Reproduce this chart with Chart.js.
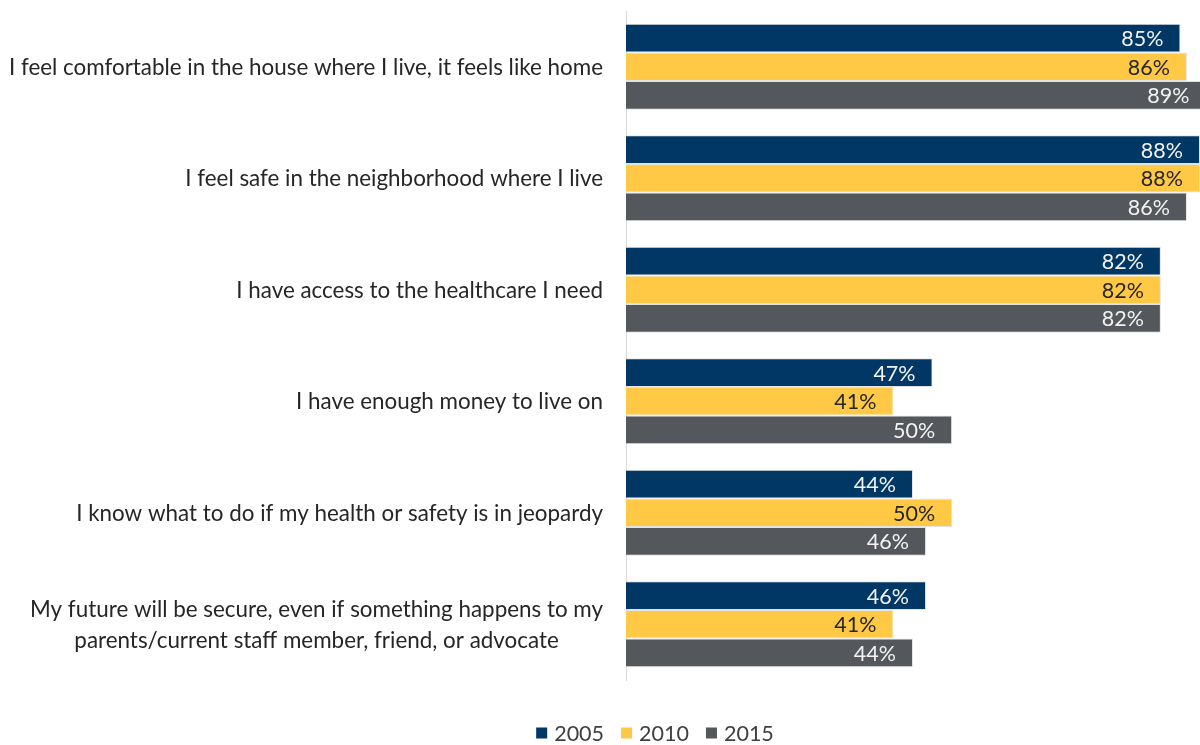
<!DOCTYPE html>
<html>
<head>
<meta charset="utf-8">
<script src="https://cdn.jsdelivr.net/npm/chart.js@4.4.1/dist/chart.umd.min.js"></script>
<style>
  html, body { margin: 0; padding: 0; background: #fff; }
  #wrap { width: 1200px; height: 745px; position: relative; }
</style>
</head>
<body>
<div id="wrap"><canvas id="chart"></canvas></div>
<script>
// survey statements, one per group (multi-line where the label wraps)
const statements = [
  ["I feel comfortable in the house where I live, it feels like home"],
  ["I feel safe in the neighborhood where I live"],
  ["I have access to the healthcare I need"],
  ["I have enough money to live on"],
  ["I know what to do if my health or safety is in jeopardy"],
  ["My future will be secure, even if something happens to my", "parents/current staff member, friend, or advocate"],
];
const years = ["2005", "2010", "2015"];
const values2005 = [85, 88, 82, 47, 44, 46];
const values2010 = [86, 88, 82, 41, 50, 41];
const values2015 = [89, 86, 82, 50, 46, 44];

const barColors = ["#003764", "#FFC845", "#54575B"];
const labelColors = ["#F2F2F2", "#262626", "#F2F2F2"];
const FONT = "Lato, 'Open Sans', sans-serif";

// category text, value labels and legend are drawn by hand
const textPlugin = {
  id: "surveyText",
  afterDatasetsDraw(chart) {
    const ctx = chart.ctx;
    const yScale = chart.scales.y;
    const xScale = chart.scales.x;
    ctx.save();

    // statements on the left, right edge at 603, wrapped lines centred
    ctx.font = "22.4px " + FONT;
    ctx.fillStyle = "#262626";
    ctx.textAlign = "center";
    ctx.textBaseline = "middle";
    statements.forEach((lines, i) => {
      const yc = yScale.getPixelForValue(i);
      const w = Math.max(...lines.map(l => ctx.measureText(l).width));
      const cx = 603 - w / 2;
      const lh = 31;
      lines.forEach((l, k) => {
        ctx.fillText(l, cx, yc + 1 + (k - (lines.length - 1) / 2) * lh);
      });
    });

    // percentage labels, inside the bar end
    ctx.font = "21.5px " + FONT;
    ctx.textAlign = "right";
    chart.data.datasets.forEach((ds, di) => {
      const meta = chart.getDatasetMeta(di);
      ctx.fillStyle = labelColors[di];
      meta.data.forEach((bar, i) => {
        const x = xScale.getPixelForValue(ds.data[i]) - 17;
        ctx.fillText(ds.data[i] + "%", x, bar.y + 1);
      });
    });

    // legend along the bottom
    ctx.font = "21.5px " + FONT;
    ctx.textAlign = "left";
    const box = 11, gap = 7, spacing = 17;
    const widths = years.map(t => box + gap + ctx.measureText(t).width);
    const total = widths.reduce((a, b) => a + b, 0) + spacing * (years.length - 1);
    let x = 655 - total / 2;
    const ly = 733;
    years.forEach((t, i) => {
      ctx.fillStyle = barColors[i];
      ctx.fillRect(x, ly - box / 2, box, box);
      ctx.fillStyle = "#404040";
      ctx.fillText(t, x + box + gap, ly + 1);
      x += widths[i] + spacing;
    });
    ctx.restore();
  }
};

new Chart(document.getElementById("chart"), {
  type: "bar",
  data: {
    labels: statements.map(s => s.join(" ")),
    datasets: [
      { label: years[0], data: values2005, backgroundColor: barColors[0] },
      { label: years[1], data: values2010, backgroundColor: barColors[1] },
      { label: years[2], data: values2015, backgroundColor: barColors[2] },
    ].map(d => Object.assign(d, {
      borderColor: "rgba(220,220,220,0.8)",
      borderWidth: 1,
      categoryPercentage: 0.77,
      barPercentage: 1.0,
    })),
  },
  options: {
    indexAxis: "y",
    responsive: true,
    maintainAspectRatio: false,
    animation: false,
    layout: { padding: { left: 626, right: 0, top: 11, bottom: 65 } },
    scales: {
      x: { display: false, min: 0, max: 88 },
      y: {
        ticks: { display: false },
        grid: { display: false },
        border: { display: true, color: "#D9D9D9", width: 1 },
        afterFit(scale) { scale.width = 0; },
      },
    },
    plugins: {
      legend: { display: false },
      tooltip: { enabled: false },
    },
  },
  plugins: [textPlugin],
});
</script>
</body>
</html>
